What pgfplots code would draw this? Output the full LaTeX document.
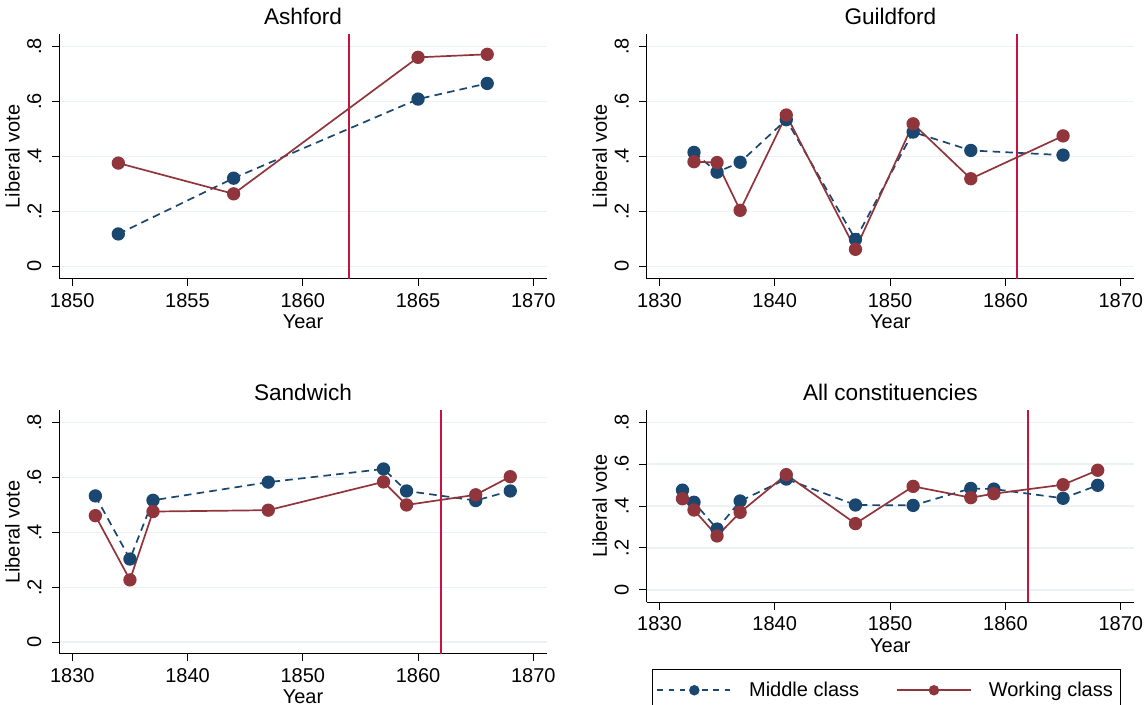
\documentclass[border=0pt]{standalone}
\usepackage{fontspec}
\setmainfont{Liberation Sans}
\usepackage{pgfplots}
\pgfplotsset{compat=1.18}
\definecolor{mnavy}{RGB}{26,71,111}
\definecolor{mmaroon}{RGB}{144,53,59}
\definecolor{vred}{RGB}{200,20,60}
\definecolor{gridc}{RGB}{234,242,243}
\newcommand{\fs}{\fontsize{10}{12}\selectfont}
\pgfplotsset{
  panel/.style={
    scale only axis, anchor=south west,
    axis x line*=bottom, axis y line*=left,
    axis line style={line width=0.5pt, black},
    tick align=outside, major tick length=3.75pt,
    tick style={line width=0.5pt, black},
    ytick={0,0.2,0.4,0.6,0.8}, yticklabels={0,.2,.4,.6,.8},
    ymajorgrids, major grid style={gridc, line width=0.8pt},
    yticklabel style={rotate=90, anchor=south, inner sep=0pt, font=\fs},
    xticklabel style={anchor=north, inner sep=0pt, font=\fs},
    yticklabel shift=5.05pt, xticklabel shift=3.25pt,
    xlabel={Year}, ylabel={Liberal vote},
    every axis x label/.style={at={(axis description cs:0.5,0)}, yshift=-25pt, anchor=base, font=\fs},
    every axis y label/.style={at={(axis description cs:0,0.5)}, xshift=-19.9pt, rotate=90, anchor=base, font=\fs},
    every axis title/.style={at={(axis description cs:0.5,1)}, yshift=4.5pt, anchor=base, font=\fontsize{11.3}{13.5}\selectfont},
  },
  mid/.style={mnavy, line width=0.85pt, dash pattern=on 3.8pt off 2.6pt, mark=*, mark size=2.9pt, mark options={solid, fill=mnavy, draw=mnavy}},
  wrk/.style={mmaroon, line width=0.85pt, mark=*, mark size=2.9pt, mark options={solid, fill=mmaroon, draw=mmaroon}},
  vl/.style={vred, line width=1pt, no marks},
}
\begin{document}
\begin{tikzpicture}
\useasboundingbox (0,0) rectangle (572pt,352.5pt);
% Ashford
\begin{axis}[panel, at={(29.65pt,213pt)}, width=243.7pt, height=122.5pt,
  xmin=1849.44, xmax=1870.58, ymin=-0.046, ymax=0.846,
  xtick={1850,1855,1860,1865,1870}, xticklabels={1850,1855,1860,1865,1870},
  title={Ashford}]
\addplot[vl] coordinates {(1862,-0.046) (1862,0.846)};
\addplot[mid] coordinates {(1852,0.118) (1857,0.321) (1865,0.609) (1868,0.666)};
\addplot[wrk] coordinates {(1852,0.376) (1857,0.264) (1865,0.761) (1868,0.772)};
\end{axis}
% Guildford
\begin{axis}[panel, at={(323.35pt,213pt)}, width=243.65pt, height=122.5pt,
  xmin=1828.9, xmax=1871.15, ymin=-0.046, ymax=0.846,
  xtick={1830,1840,1850,1860,1870}, xticklabels={1830,1840,1850,1860,1870},
  title={Guildford}]
\addplot[vl] coordinates {(1861,-0.046) (1861,0.846)};
\addplot[mid] coordinates {(1833,0.415) (1835,0.343) (1837,0.379) (1841,0.534) (1847,0.098) (1852,0.489) (1857,0.422) (1865,0.405)};
\addplot[wrk] coordinates {(1833,0.381) (1835,0.378) (1837,0.204) (1841,0.551) (1847,0.062) (1852,0.519) (1857,0.319) (1865,0.475)};
\end{axis}
% Sandwich
\begin{axis}[panel, at={(29.65pt,25.5pt)}, width=243.7pt, height=122pt,
  xmin=1828.87, xmax=1871.16, ymin=-0.043, ymax=0.846,
  xtick={1830,1840,1850,1860,1870}, xticklabels={1830,1840,1850,1860,1870},
  title={Sandwich}]
\addplot[vl] coordinates {(1862,-0.043) (1862,0.846)};
\addplot[mid] coordinates {(1832,0.533) (1835,0.303) (1837,0.517) (1847,0.583) (1857,0.631) (1859,0.551) (1865,0.516) (1868,0.551)};
\addplot[wrk] coordinates {(1832,0.461) (1835,0.227) (1837,0.476) (1847,0.481) (1857,0.584) (1859,0.500) (1865,0.537) (1868,0.603)};
\end{axis}
% All constituencies
\begin{axis}[panel, at={(323.35pt,51.35pt)}, width=243.65pt, height=96.15pt,
  xmin=1828.9, xmax=1871.15, ymin=-0.060, ymax=0.859,
  xtick={1830,1840,1850,1860,1870}, xticklabels={1830,1840,1850,1860,1870},
  title={All constituencies},
  legend columns=2,
  legend style={at={(axis description cs:0.0109,-0.347)}, anchor=north west,
    draw=black, line width=0.5pt, font=\fs, inner xsep=2pt, inner ysep=4pt,
    /tikz/every odd column/.append style={column sep=6.5pt},
    /tikz/every even column/.append style={column sep=16.5pt}},
  legend image code/.code={\draw[mark repeat=2,mark phase=2,#1] plot coordinates {(0pt,0pt) (18.5pt,0pt) (37pt,0pt)};}]
\addplot[vl, forget plot] coordinates {(1862,-0.060) (1862,0.859)};
\addplot[mid, forget plot] coordinates {(1832,0.476) (1833,0.418) (1835,0.290) (1837,0.424) (1841,0.529) (1847,0.405) (1852,0.403) (1857,0.484) (1859,0.481) (1865,0.437) (1868,0.499)};
\addplot[wrk, forget plot] coordinates {(1832,0.435) (1833,0.381) (1835,0.257) (1837,0.370) (1841,0.550) (1847,0.316) (1852,0.494) (1857,0.440) (1859,0.459) (1865,0.502) (1868,0.571)};
\addlegendimage{mnavy, line width=0.8pt, dash pattern=on 2.8pt off 2.8pt, mark=*, mark size=2.2pt, mark options={solid, fill=mnavy, draw=mnavy}}
\addlegendentry{Middle class}
\addlegendimage{mmaroon, line width=0.8pt, mark=*, mark size=2.2pt, mark options={solid, fill=mmaroon, draw=mmaroon}}
\addlegendentry{Working class\hspace{3.5pt}}
\end{axis}
\end{tikzpicture}
\end{document}
